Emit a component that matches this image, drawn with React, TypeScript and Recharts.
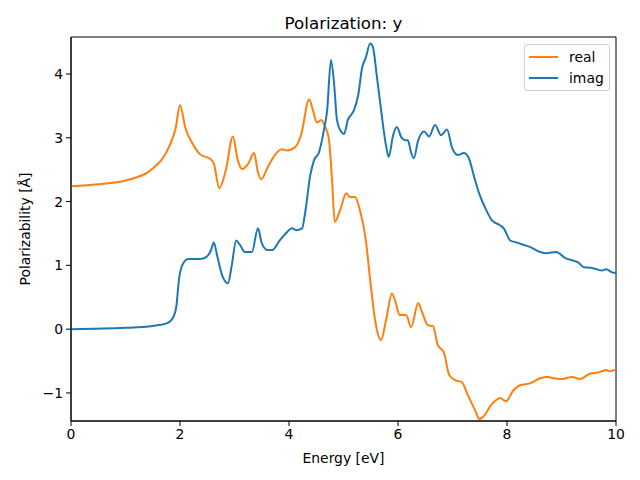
import { LineChart, Line, XAxis, YAxis, ReferenceArea, Label } from "recharts";

// energies [eV] and polarizability [Å]
const realEnergy = [
  0, 0.5, 1, 1.5, 1.8, 1.92, 2.0, 2.1, 2.25, 2.37,
  2.55, 2.62, 2.72, 2.84, 2.97, 3.06, 3.14, 3.25, 3.36, 3.43,
  3.49, 3.61, 3.74, 3.87, 3.96, 4.11, 4.22, 4.37, 4.44, 4.51,
  4.59, 4.66, 4.73, 4.79, 4.84, 4.94, 5.05, 5.12, 5.21, 5.3,
  5.41, 5.49, 5.58, 5.69, 5.78, 5.89, 5.96, 6.03, 6.15, 6.24,
  6.37, 6.44, 6.55, 6.64, 6.73, 6.84, 6.94, 7.05, 7.17, 7.28,
  7.43, 7.49, 7.58, 7.69, 7.8, 7.87, 7.98, 8.11, 8.24, 8.42,
  8.61, 8.75, 8.86, 9.01, 9.19, 9.34, 9.52, 9.71, 9.82, 9.89,
  10,
];
const realValues = [
  2.24, 2.27, 2.33, 2.52, 2.86, 3.15, 3.51, 3.15, 2.88, 2.74,
  2.67, 2.6, 2.21, 2.49, 3.02, 2.65, 2.51, 2.59, 2.76, 2.46,
  2.35, 2.54, 2.73, 2.82, 2.8, 2.85, 3.04, 3.6, 3.43, 3.24,
  3.28, 3.18, 2.99, 2.33, 1.68, 1.87, 2.13, 2.07, 2.07, 1.87,
  1.39, 0.77, 0.14, -0.17, 0.14, 0.56, 0.41, 0.22, 0.22, 0.03,
  0.41, 0.27, 0.06, 0.05, -0.25, -0.36, -0.72, -0.8, -0.83, -1.03,
  -1.3, -1.41, -1.36, -1.21, -1.11, -1.08, -1.13, -0.97, -0.88, -0.85,
  -0.77, -0.75, -0.77, -0.78, -0.75, -0.78, -0.7, -0.67, -0.64, -0.66,
  -0.63,
];

const imagEnergy = [
  0, 1, 1.5, 1.75, 1.85, 1.93, 1.98, 2.04, 2.15, 2.37,
  2.48, 2.57, 2.62, 2.68, 2.77, 2.88, 2.95, 3.03, 3.1, 3.19,
  3.32, 3.43, 3.5, 3.61, 3.69, 3.83, 3.94, 4.06, 4.13, 4.24,
  4.29, 4.39, 4.46, 4.55, 4.64, 4.7, 4.77, 4.83, 4.88, 4.94,
  5.01, 5.08, 5.19, 5.27, 5.34, 5.41, 5.49, 5.54, 5.61, 5.69,
  5.78, 5.83, 5.91, 5.98, 6.06, 6.13, 6.18, 6.24, 6.29, 6.37,
  6.48, 6.57, 6.68, 6.79, 6.9, 6.99, 7.1, 7.21, 7.3, 7.39,
  7.5, 7.6, 7.72, 7.87, 7.94, 8.06, 8.17, 8.31, 8.42, 8.61,
  8.72, 8.9, 9.08, 9.23, 9.3, 9.41, 9.56, 9.74, 9.82, 9.93,
  10,
];
const imagValues = [
  0.0, 0.02, 0.05, 0.09, 0.15, 0.34, 0.77, 1.0, 1.1, 1.1,
  1.13, 1.24, 1.36, 1.16, 0.85, 0.72, 1.0, 1.39, 1.32, 1.21,
  1.21, 1.58, 1.35, 1.24, 1.24, 1.39, 1.5, 1.58, 1.55, 1.58,
  1.79, 2.41, 2.65, 2.77, 3.12, 3.43, 4.22, 3.82, 3.28, 3.12,
  3.06, 3.28, 3.43, 3.67, 4.09, 4.26, 4.48, 4.42, 3.98, 3.43,
  2.88, 2.7, 3.04, 3.17, 3.01, 2.96, 2.96, 2.77, 2.68, 2.96,
  3.1, 3.02, 3.2, 3.04, 3.13, 2.85, 2.73, 2.76, 2.68, 2.41,
  2.1, 1.9, 1.71, 1.63, 1.58, 1.39, 1.36, 1.32, 1.29, 1.21,
  1.19, 1.21, 1.11, 1.07, 1.05, 0.97, 0.96, 0.92, 0.94, 0.89,
  0.88,
];

const xTicks = [0, 2, 4, 6, 8, 10];
const yTicks = [-1, 0, 1, 2, 3, 4];
const yMin = -1.44;
const yMax = 4.58;

const realData = realEnergy.map((e, i) => ({ energy: e, value: realValues[i] }));
const imagData = imagEnergy.map((e, i) => ({ energy: e, value: imagValues[i] }));

const font = "'DejaVu Sans', sans-serif";
const tickStyle = { fontSize: 13.9, fill: "#000", fontFamily: font };
const fmt = (v: number) => (v < 0 ? "\u2212" + Math.abs(v) : String(v));

export default function App() {
  return (
    <div style={{ position: "absolute", left: 0, top: 0, width: 640, height: 480, fontFamily: font }}>
      <div
        style={{
          position: "absolute",
          left: 71,
          width: 545,
          top: 13,
          textAlign: "center",
          fontSize: 16.7,
          lineHeight: "20px",
        }}
      >
        Polarization: y
      </div>
      <LineChart width={640} height={480} margin={{ top: 37, right: 24, left: 0, bottom: 0 }}>
        <XAxis
          dataKey="energy"
          type="number"
          domain={[0, 10]}
          ticks={xTicks}
          allowDataOverflow
          height={59}
          tickSize={5}
          tickMargin={3}
          tick={tickStyle}
          stroke="#000"
          tickLine={{ stroke: "#000" }}
        >
          <Label value="Energy [eV]" position="insideBottom" offset={17} style={{ fontSize: 13.9, fill: "#000", fontFamily: font }} />
        </XAxis>
        <YAxis
          type="number"
          domain={[yMin, yMax]}
          ticks={yTicks}
          allowDataOverflow
          width={71}
          tickSize={5}
          tickMargin={3}
          tick={tickStyle}
          tickFormatter={fmt}
          stroke="#000"
          tickLine={{ stroke: "#000" }}
        >
          <Label
            value="Polarizability [Å]"
            angle={-90}
            position="insideLeft"
            offset={25}
            style={{ textAnchor: "middle", fontSize: 13.9, fill: "#000", fontFamily: font }}
          />
        </YAxis>
        <ReferenceArea x1={0} x2={10} y1={yMin} y2={yMax} fill="none" stroke="#000" strokeWidth={1} ifOverflow="visible" />
        <Line
          data={realData}
          dataKey="value"
          type="monotone"
          stroke="#ff7f0e"
          strokeWidth={2}
          dot={false}
          isAnimationActive={false}
        />
        <Line
          data={imagData}
          dataKey="value"
          type="monotone"
          stroke="#1f77b4"
          strokeWidth={2}
          dot={false}
          isAnimationActive={false}
        />
      </LineChart>
      <div
        style={{
          position: "absolute",
          left: 524,
          top: 44,
          width: 84,
          height: 45,
          border: "1px solid #d0d0d0",
          borderRadius: 3,
          background: "rgba(255,255,255,0.8)",
          fontSize: 13.9,
        }}
      >
        {[
          { name: "real", color: "#ff7f0e" },
          { name: "imag", color: "#1f77b4" },
        ].map((item, i) => (
          <div key={item.name} style={{ position: "absolute", left: 4, top: 3 + i * 21, height: 17, display: "flex", alignItems: "center" }}>
            <div style={{ width: 29, height: 2, background: item.color }} />
            <span style={{ marginLeft: 11 }}>{item.name}</span>
          </div>
        ))}
      </div>
    </div>
  );
}
